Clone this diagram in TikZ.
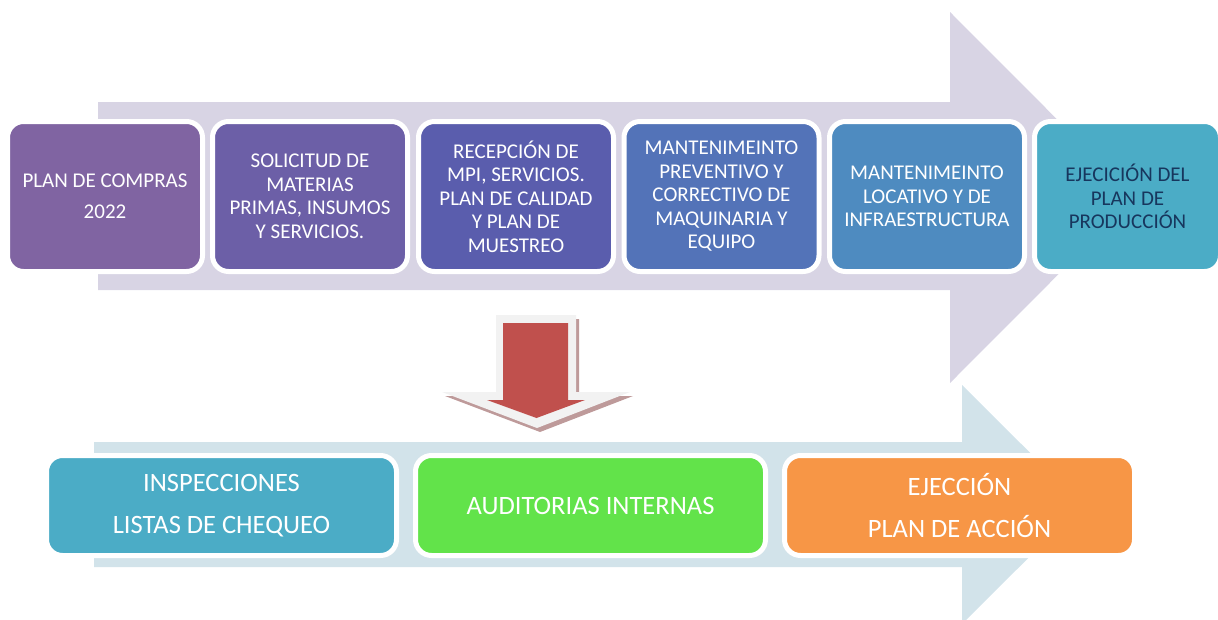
\documentclass[tikz,border=0pt]{standalone}
\usepackage{fontspec}
\setmainfont{Carlito}
\usepackage{tikz}
\usetikzlibrary{positioning}
\definecolor{lavanda}{HTML}{D8D4E4}
\definecolor{celeste}{HTML}{D2E3EA}
\definecolor{cajaA}{HTML}{8064A2}
\definecolor{cajaB}{HTML}{6C5FA7}
\definecolor{cajaC}{HTML}{5A5DAD}
\definecolor{cajaD}{HTML}{5373B8}
\definecolor{cajaE}{HTML}{4E8BC0}
\definecolor{cajaF}{HTML}{4BACC6}
\definecolor{verde}{HTML}{62E34A}
\definecolor{naranja}{HTML}{F79646}
\definecolor{rojo}{HTML}{C0504D}
\definecolor{sombra}{HTML}{BE9A9A}
\definecolor{marino}{HTML}{17365D}
\tikzset{
  caja/.style={draw=white,line width=5pt,rounded corners=16pt,align=center,text=white,inner sep=0pt},
  cajasup/.style={caja,minimum width=195pt,minimum height=150pt,font=\fontsize{21}{23.5}\selectfont},
  cajainf/.style={caja,minimum width=350pt,minimum height=100pt,font=\fontsize{26.5}{42}\selectfont}
}
\begin{document}
\begin{tikzpicture}[x=1pt,y=-1pt,line join=round]
\useasboundingbox (0,0) rectangle (1218,619);
% flecha superior
\fill[lavanda] (98,102) -- (950,102) -- (950,12) -- (1135,197.5) -- (950,383) -- (950,290) -- (98,290) -- cycle;
% flecha inferior
\fill[celeste] (94,442) -- (962,442) -- (962,385) -- (1082,504.5) -- (962,624) -- (962,567) -- (94,567) -- cycle;
% flecha hacia abajo
\fill[sombra] (499,319) -- (579,319) -- (579,396) -- (633,396) -- (540,432) -- (445,396) -- (499,396) -- cycle;
\fill[black!5] (496,315) -- (576,315) -- (576,392) -- (630,392) -- (537,428) -- (442,392) -- (496,392) -- cycle;
\fill[rojo] (503,323) -- (568,323) -- (568,400) -- (585,400) -- (536.5,418) -- (487,400) -- (503,400) -- cycle;
% cajas superiores
\node[cajasup,fill=cajaA] (compras) at (105,196.5) {PLAN DE COMPRAS\\[7.5pt]2022};
\node[cajasup,fill=cajaB] (solicitud) at (310,196.5) {SOLICITUD DE\\MATERIAS\\PRIMAS, INSUMOS\\Y SERVICIOS.};
\node[cajasup,fill=cajaC] (recepcion) at (516,196.5) {RECEPCIÓN DE\\MPI, SERVICIOS.\\PLAN DE CALIDAD\\Y PLAN DE\\MUESTREO};
\node[cajasup,fill=cajaD] (preventivo) at (721.5,196.5) {MANTENIMEINTO\\PREVENTIVO Y\\CORRECTIVO DE\\MAQUINARIA Y\\EQUIPO};
\node[cajasup,fill=cajaE] (locativo) at (927,196.5) {MANTENIMEINTO\\LOCATIVO Y DE\\INFRAESTRUCTURA};
\node[cajasup,fill=cajaF,minimum width=186pt,text=marino] (produccion) at (1127.5,196.5) {EJECICIÓN DEL\\PLAN DE\\PRODUCCIÓN};
% cajas inferiores
\node[cajainf,fill=cajaF] (inspecciones) at (221.5,505.5) {INSPECCIONES\\LISTAS DE CHEQUEO};
\node[cajainf,fill=verde] (auditorias) at (590.5,505.5) {AUDITORIAS INTERNAS};
\node[cajainf,fill=naranja] (accion) at (959.5,505.5) {EJECCIÓN\\PLAN DE ACCIÓN};
\end{tikzpicture}
\end{document}
